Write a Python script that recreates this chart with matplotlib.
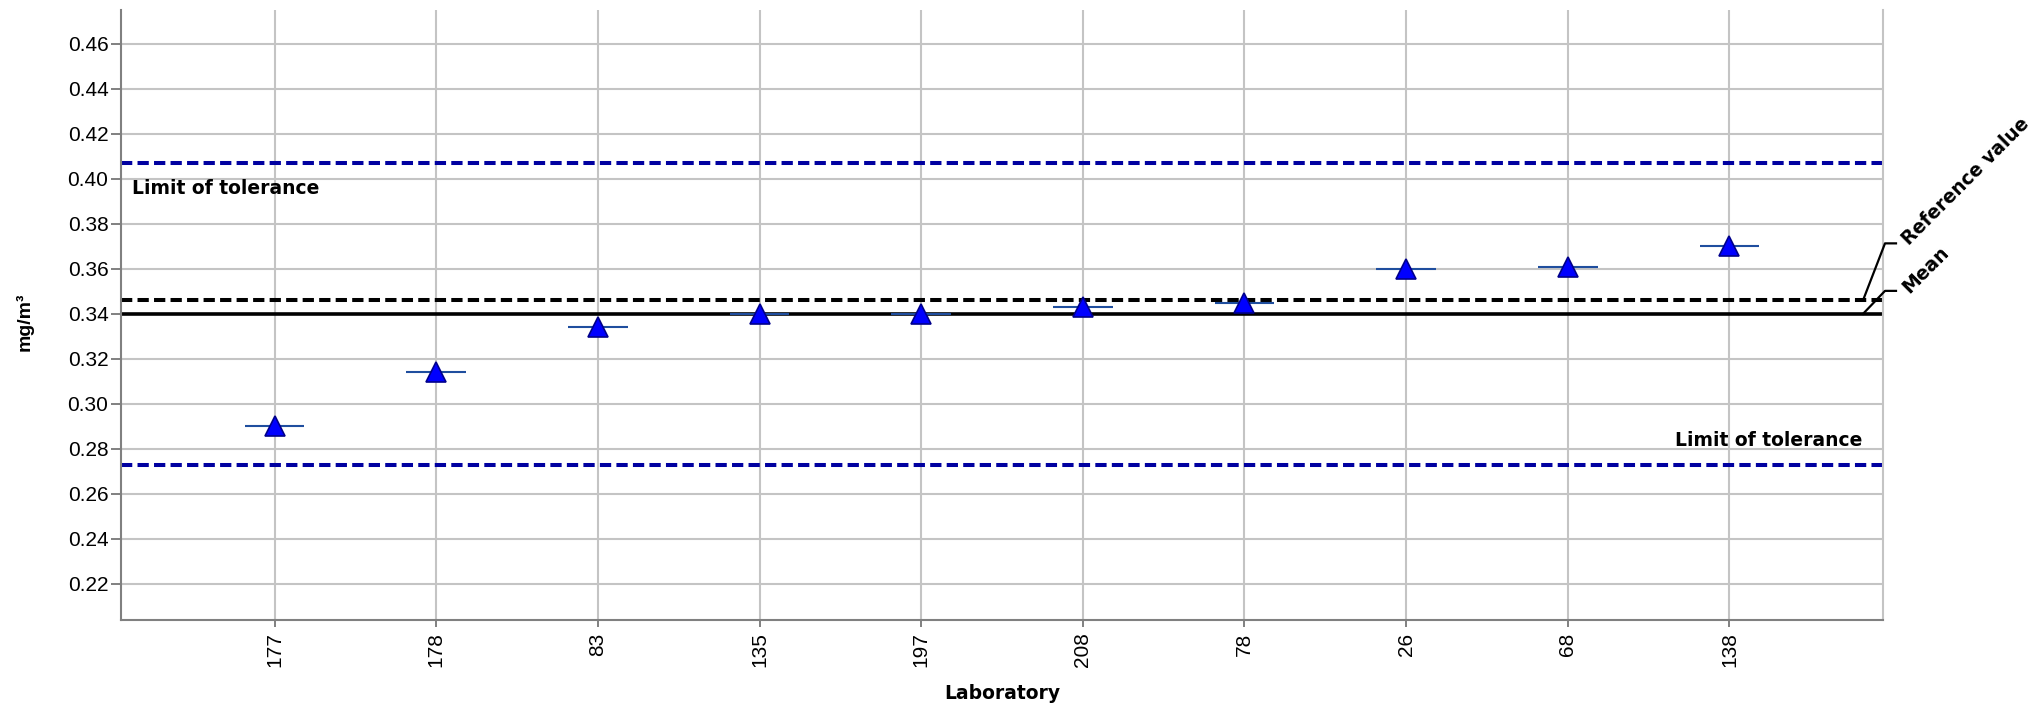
import matplotlib
matplotlib.use("Agg")
import matplotlib.pyplot as plt
from matplotlib.lines import Line2D
from matplotlib.transforms import IdentityTransform

# Interlaboratory comparison results (mg/m³)
laboratories = ["177", "178", "83", "135", "197", "208", "78", "26", "68", "138"]
results = [0.290, 0.314, 0.334, 0.340, 0.340, 0.343, 0.345, 0.360, 0.361, 0.370]
mean_value = 0.340
reference_value = 0.346
tolerance_upper = 0.407
tolerance_lower = 0.273
y_ticks = [0.22, 0.24, 0.26, 0.28, 0.30, 0.32, 0.34, 0.36, 0.38, 0.40, 0.42, 0.44, 0.46]

W, H = 2036, 704
fig = plt.figure(figsize=(W / 100, H / 100), dpi=100)
ax = fig.add_axes([121 / W, 84 / H, 1762 / W, 610 / H])

tick_font = {"family": "Liberation Sans", "size": 15}
bold_font = {"family": "DejaVu Sans", "weight": "bold", "size": 13.5}

x = list(range(len(laboratories)))

# grid and frame
ax.set_axisbelow(True)
ax.grid(True, color="#c4c4c4", linewidth=1.5)
for side in ("left", "bottom"):
    ax.spines[side].set_color("#808080")
    ax.spines[side].set_linewidth(1.5)
ax.spines["top"].set_visible(False)
ax.spines["right"].set_color("#c4c4c4")
ax.spines["right"].set_linewidth(1.5)

# reference lines
ax.axhline(tolerance_upper, color="#0000a0", linewidth=2.9, linestyle=(0, (2.8, 1.3)), zorder=2)
ax.axhline(tolerance_lower, color="#0000a0", linewidth=2.9, linestyle=(0, (2.8, 1.3)), zorder=2)
ax.axhline(reference_value, color="black", linewidth=2.9, linestyle=(0, (2.8, 1.3)), zorder=2)
ax.axhline(mean_value, color="black", linewidth=2.6, zorder=2)

# laboratory results: short bar at the value plus a triangle marker
ax.hlines(results, [i - 0.185 for i in x], [i + 0.185 for i in x],
          color="#1f4e9e", linewidth=1.5, zorder=3)
ax.plot(x, results, linestyle="none", marker="^", markersize=14,
        markerfacecolor="#0000ff", markeredgecolor="#00008b",
        markeredgewidth=1.2, zorder=4)

ax.set_xlim(-0.95, 9.95)
ax.set_ylim(0.204, 0.475)
ax.set_yticks(y_ticks)
ax.set_yticklabels([f"{v:.2f}" for v in y_ticks], fontdict=tick_font)
ax.set_xticks(x)
ax.set_xticklabels(laboratories, rotation=90, fontdict=tick_font)
ax.tick_params(axis="y", length=7, width=1.4, color="#808080", pad=2)
ax.tick_params(axis="x", length=5, width=1.4, color="#808080", pad=4)

# tolerance labels
ax.annotate("Limit of tolerance", xy=(0, tolerance_upper),
            xycoords=("axes fraction", "data"), xytext=(11, -16),
            textcoords="offset pixels", ha="left", va="top", **bold_font)
ax.annotate("Limit of tolerance", xy=(1, tolerance_lower),
            xycoords=("axes fraction", "data"), xytext=(-21, 19),
            textcoords="offset pixels", ha="right", va="baseline", **bold_font)

# bracket labels for mean and reference value on the right edge
x_right = ax.transAxes.transform((1, 0))[0]
for value, rise, label in ((mean_value, 23, "Mean"),
                           (reference_value, 57, "Reference value")):
    y_disp = ax.transData.transform((0, value))[1]
    xs = [x_right - 20, x_right + 2, x_right + 13]
    ys = [y_disp, y_disp + rise, y_disp + rise]
    fig.add_artist(Line2D(xs, ys, color="black", linewidth=1.6,
                          transform=IdentityTransform(), clip_on=False))
    fig.text(x_right + 22, y_disp + rise + 1, label, rotation=45,
             rotation_mode="anchor", ha="left", va="center",
             transform=IdentityTransform(), **bold_font)

# axis titles
fig.text((121 + 1762 / 2) / W, 5 / H, "Laboratory", ha="center", va="baseline", **bold_font)
fig.text(25 / W, 382 / H, "mg/m³", rotation=90, ha="center", va="center",
         family="Liberation Sans", weight="bold", size=14)

fig.savefig("out.png", dpi=100)
